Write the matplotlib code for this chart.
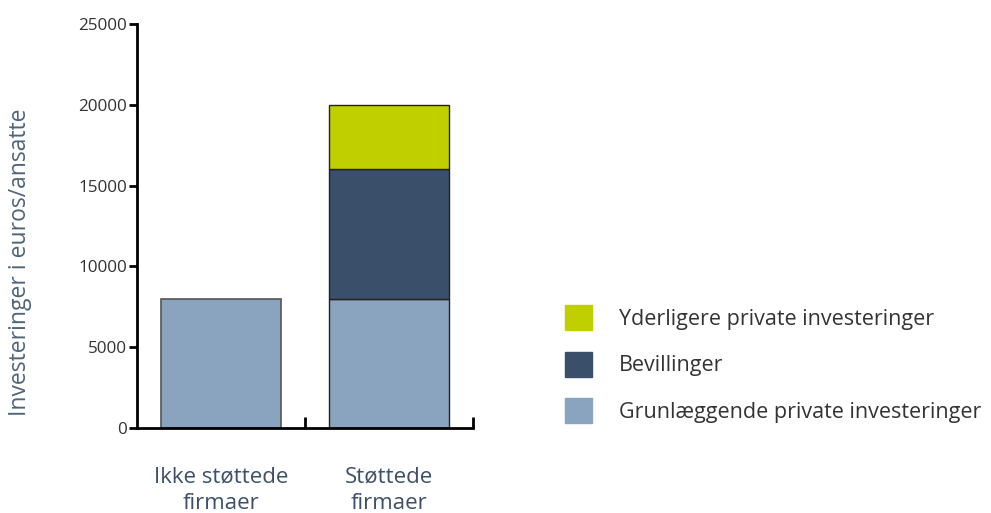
import numpy as np
import matplotlib
matplotlib.use("Agg")
import matplotlib.pyplot as plt
from matplotlib.patches import Patch

plt.rcParams['font.family'] = ['Open Sans', 'DejaVu Sans']

categories = ["Ikke støttede\nfirmaer", "Støttede\nfirmaer"]
grundlaeggende = [8000, 8000]
bevillinger = [0, 8000]
yderligere = [0, 4000]
series_names = ["Yderligere private investeringer", "Bevillinger",
                "Grunlæggende private investeringer"]
yticks = [0, 5000, 10000, 15000, 20000, 25000]

c_light = "#8aa3be"
c_dark = "#3a506a"
c_green = "#bfcf00"
txt = "#3d5068"

fig = plt.figure(figsize=(9.91, 5.13), dpi=100)
ax = fig.add_axes([137/991, 85/513, 336/991, 404/513])

x = np.arange(len(categories))
w = 0.72
ax.bar(x[0], grundlaeggende[0], w, color=c_light, edgecolor="#555555", lw=1.2)
ax.bar(x[1], grundlaeggende[1], w, color=c_light, edgecolor="#222222", lw=1)
ax.bar(x[1], bevillinger[1], w, bottom=grundlaeggende[1], color=c_dark, edgecolor="#222222", lw=1)
ax.bar(x[1], yderligere[1], w, bottom=grundlaeggende[1] + bevillinger[1], color=c_green,
       edgecolor="#222222", lw=1)

ax.set_xlim(-0.5, 1.5)
ax.set_ylim(0, 25000)
ax.set_yticks(yticks)
ax.tick_params(axis='y', direction='out', length=6, width=2, labelsize=12.3, labelcolor="#333333", pad=1)
ax.set_xticks([0.5, 1.5])
ax.set_xticklabels([])
ax.tick_params(axis='x', which='major', direction='in', length=8, width=2)
ax.set_xticks(x, minor=True)
ax.set_xticklabels(categories, minor=True, fontsize=16, color=txt, linespacing=1.35)
ax.tick_params(axis='x', which='minor', length=0, pad=28)
for s in ['top', 'right']:
    ax.spines[s].set_visible(False)
ax.spines['left'].set_linewidth(2)
ax.spines['bottom'].set_linewidth(2)
fig.text(20/991, 1 - 262/513, "Investeringer i euros/ansatte", rotation=90,
         ha='center', va='center', fontsize=16.5, color="#4f6478")

handles = [Patch(color=c_green), Patch(color=c_dark), Patch(color=c_light)]
fig.legend(handles, series_names, loc='upper left', bbox_to_anchor=(546/991, 1 - 286/513),
           frameon=False, fontsize=15.5, handlelength=1.24, handleheight=1.4,
           handletextpad=1.24, labelspacing=1.0, labelcolor="#333333")

fig.savefig("out.png", dpi=100)
